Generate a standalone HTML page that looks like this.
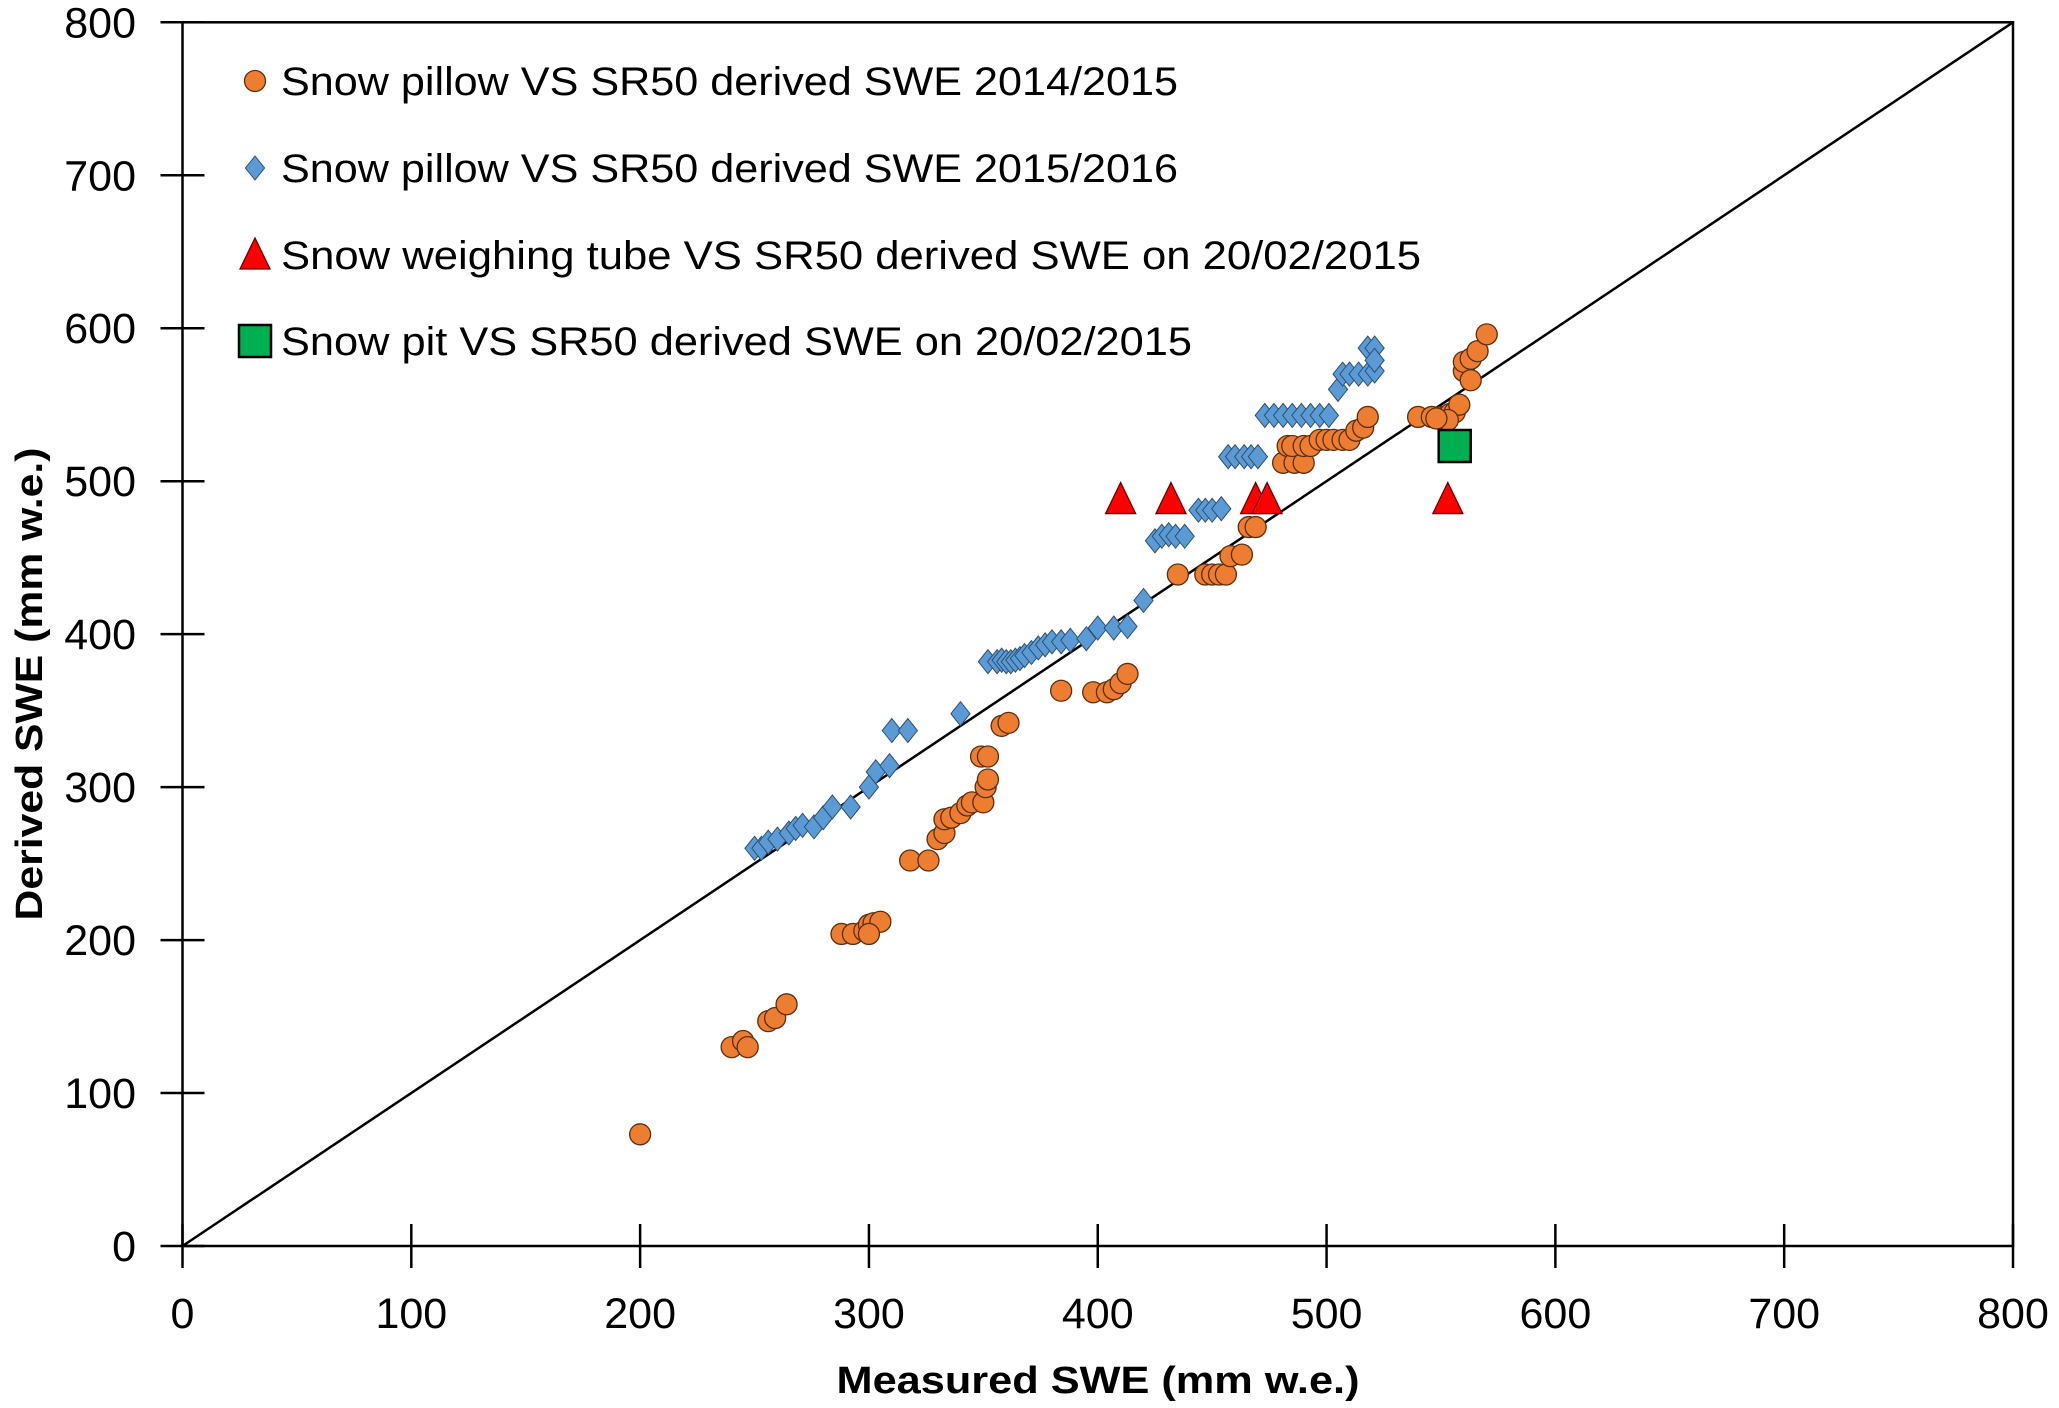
<!DOCTYPE html>
<html><head><meta charset="utf-8"><style>
html,body{margin:0;padding:0;background:#fff;}
svg{display:block;font-family:"Liberation Sans",sans-serif;}
</style></head><body>
<svg id="chart" width="2059" height="1408" viewBox="0 0 2059 1408" xmlns="http://www.w3.org/2000/svg">
<g id="axes"></g><g id="marks"></g><g id="legend"></g>
</svg>
<script>
const xTicks=[0,100,200,300,400,500,600,700,800];
const yTicks=[0,100,200,300,400,500,600,700,800];
const pillow1415X=[200,240,245,247,256,259,264,288,293,298,300,302,305,300,318,326,330,333,333,336,340,343,345,350,349,352,351,352,358,361,384,398,404,407,410,413,435,447,450,453,456,458,463,466,469,481,483,486,490,485,490,493,497,500,503,507,510,513,516,518,540,546,550,552,554,556,558,560,560,563,563,566,570,553,548];
const pillow1415Y=[73,130,134,130,147,149,158,204,204,206,210,211,212,204,252,252,266,270,279,280,283,288,290,290,320,320,300,305,340,342,363,362,362,364,368,374,439,439,439,439,439,451,452,470,470,512,523,512,512,523,523,523,527,527,527,527,527,533,535,542,542,542,542,542,544,545,550,572,578,566,580,585,596,540,541];
const pillow1516X=[250,253,256,260,265,268,271,276,280,284,292,300,303,309,310,317,340,352,356,358,360,362,364,366,368,371,374,377,380,384,388,395,400,407,413,420,425,428,431,434,438,444,447,450,454,457,460,464,467,470,473,477,481,485,489,493,497,501,505,507,510,514,518,521,518,521,521];
const pillow1516Y=[260,260,264,266,270,273,275,274,280,287,287,300,310,314,337,337,348,382,382,383,382,382,383,384,386,388,391,393,395,395,396,397,404,404,405,422,461,464,465,464,464,481,481,481,482,516,516,516,516,516,543,543,543,543,543,543,543,543,560,570,570,570,570,572,587,587,579];
const tubeX=[410,432,469,474,553];
const tubeY=[488,488,488,488,488];
const pitX=[556];
const pitY=[523];
const legendLabels=["Snow pillow VS SR50 derived SWE 2014/2015","Snow pillow VS SR50 derived SWE 2015/2016","Snow weighing tube VS SR50 derived SWE on 20/02/2015","Snow pit VS SR50 derived SWE on 20/02/2015"];
const legendEnds=[1178,1178,1421,1192];

const NS="http://www.w3.org/2000/svg";
const X0=182.5,X1=2013,Y0=1246,Y1=22.3;
const sx=v=>X0+(v-0)/800*(X1-X0);
const sy=v=>Y0-(v-0)/800*(Y0-Y1);
function mk(tag,attrs,parent){const e=document.createElementNS(NS,tag);for(const k in attrs)e.setAttribute(k,attrs[k]);parent.appendChild(e);return e;}
const axes=document.getElementById('axes'),marks=document.getElementById('marks'),legend=document.getElementById('legend');

let r=mk('rect',{x:X0,y:Y1,width:X1-X0,height:Y0-Y1,fill:'none',stroke:'#000','stroke-width':2.5},axes);


let d=mk('line',{x1:sx(0),y1:sy(0),x2:sx(800),y2:sy(800),stroke:'#000','stroke-width':2.5},axes);



xTicks.forEach(t=>{
 const l=mk('line',{x1:sx(t),x2:sx(t),y1:Y0-22,y2:Y0+22,stroke:'#000','stroke-width':2.5},axes);
 
 
 const tx=mk('text',{x:sx(t),y:1328,'text-anchor':'middle','font-size':43,fill:'#000'},axes);
 tx.textContent=t;
 
 
});
yTicks.forEach(t=>{
 const l=mk('line',{x1:X0-22,x2:X0+22,y1:sy(t),y2:sy(t),stroke:'#000','stroke-width':2.5},axes);
 
 
 const tx=mk('text',{x:136,y:sy(t)+15,'text-anchor':'end','font-size':43,fill:'#000'},axes);
 tx.textContent=t;
 
 
});
let xt=mk('text',{x:1098,y:1393,'text-anchor':'middle','font-size':38,'font-weight':'bold',textLength:523,lengthAdjust:'spacingAndGlyphs'},axes);
xt.textContent='Measured SWE (mm w.e.)';


let yt=mk('text',{x:0,y:0,'text-anchor':'middle','font-size':38,'font-weight':'bold',textLength:473,lengthAdjust:'spacingAndGlyphs',transform:'translate(42,684) rotate(-90)'},axes);
yt.textContent='Derived SWE (mm w.e.)';



function circle(cx,cy,p){return mk('circle',{cx:cx,cy:cy,r:10.5,fill:'#ED7D31',stroke:'#5a2e0e','stroke-width':1.3},p);}
function diamond(cx,cy,p){const s=12;return mk('polygon',{points:`${cx},${cy-s} ${cx+s*0.8},${cy} ${cx},${cy+s} ${cx-s*0.8},${cy}`,fill:'#5B9BD5',stroke:'#2e4f70','stroke-width':1},p);}
function tri(cx,cy,p){return mk('polygon',{points:`${cx},${cy-17} ${cx+15},${cy+14} ${cx-15},${cy+14}`,fill:'#FF0000',stroke:'#600','stroke-width':1.3},p);}
function sq(cx,cy,p){return mk('rect',{x:cx-16,y:cy-16,width:32,height:32,fill:'#00B050',stroke:'#000','stroke-width':2.5},p);}

pillow1415X.forEach((v,i)=>{const e=circle(sx(v),sy(pillow1415Y[i]),marks);
 
 });
pillow1516X.forEach((v,i)=>{const e=diamond(sx(v),sy(pillow1516Y[i]),marks);
 
 });
tubeX.forEach((v,i)=>{const e=tri(sx(v),sy(tubeY[i]),marks);
 
 });
pitX.forEach((v,i)=>{const e=sq(sx(v),sy(pitY[i]),marks);
 
 });

const ly=[81,168,255,341];
const fns=[circle,diamond,tri,sq];
legendLabels.forEach((lab,i)=>{
 const m=fns[i](255,ly[i],legend);
 
 
 const t=mk('text',{x:281,y:ly[i]+14,'font-size':40,textLength:legendEnds[i]-281,lengthAdjust:'spacingAndGlyphs'},legend);
 t.textContent=lab;
 
 
});
</script>
</body></html>
